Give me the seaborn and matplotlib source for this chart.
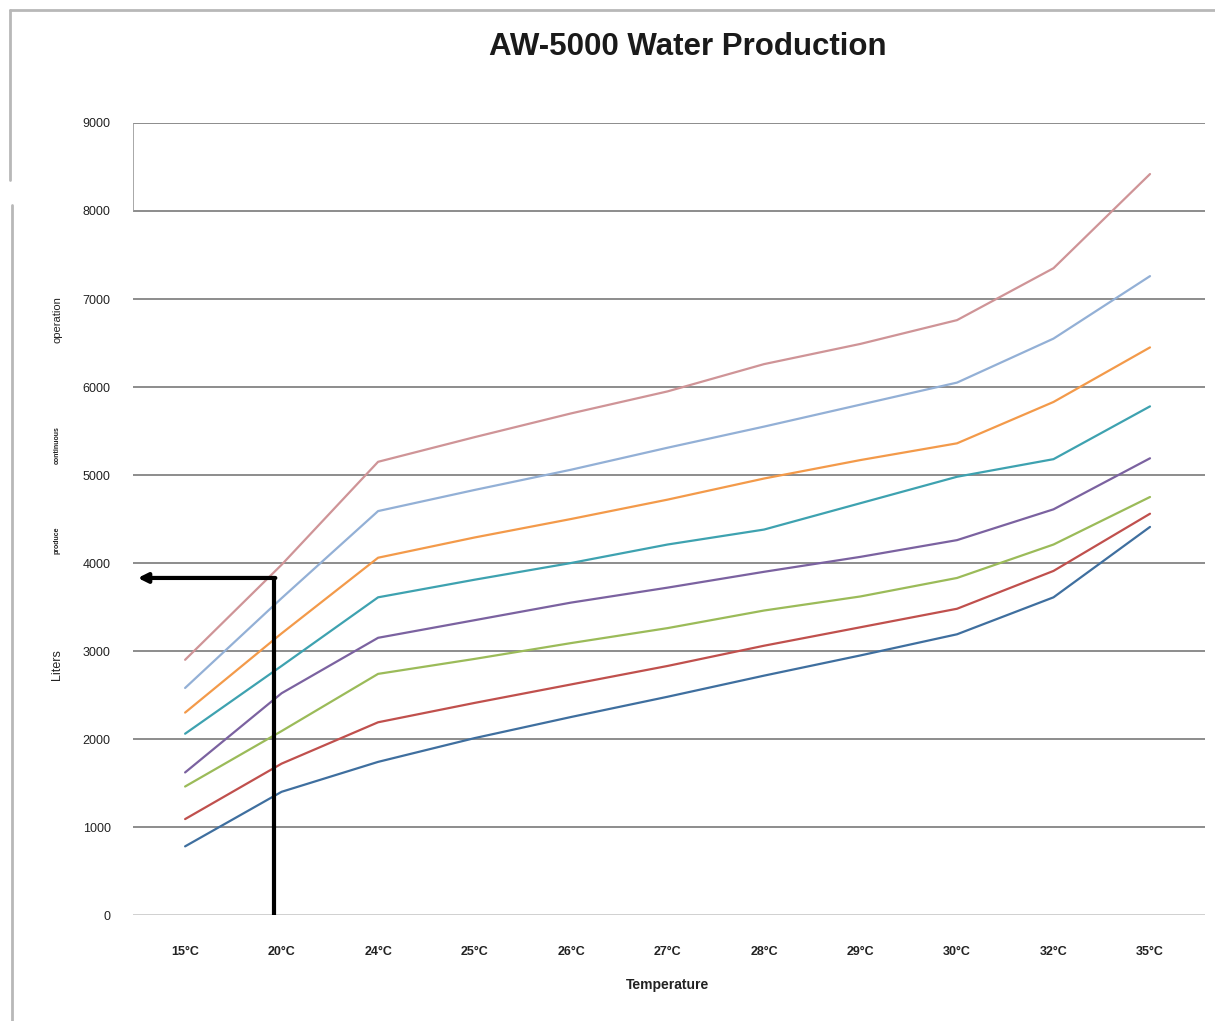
import numpy as np
import pandas as pd
import seaborn as sns
import matplotlib.pyplot as plt
from matplotlib.lines import Line2D
import matplotlib.transforms as mtransforms

# Temperature categories on the x axis
temperatures = ["15°C", "20°C", "24°C", "25°C", "26°C", "27°C",
                "28°C", "29°C", "30°C", "32°C", "35°C"]

# Daily water production (liters) for each operating curve, lowest to highest
curve_1 = [780, 1400, 1740, 2010, 2250, 2480, 2720, 2950, 3190, 3610, 4410]
curve_2 = [1090, 1720, 2190, 2410, 2620, 2830, 3060, 3270, 3480, 3910, 4560]
curve_3 = [1460, 2090, 2740, 2910, 3090, 3260, 3460, 3620, 3830, 4210, 4750]
curve_4 = [1620, 2520, 3150, 3350, 3550, 3720, 3900, 4070, 4260, 4610, 5190]
curve_5 = [2060, 2830, 3610, 3810, 4000, 4210, 4380, 4680, 4980, 5180, 5780]
curve_6 = [2300, 3200, 4060, 4290, 4500, 4720, 4960, 5170, 5360, 5830, 6450]
curve_7 = [2580, 3600, 4590, 4830, 5060, 5310, 5550, 5800, 6050, 6550, 7260]
curve_8 = [2900, 3980, 5150, 5430, 5700, 5950, 6260, 6490, 6760, 7350, 8420]

curve_names = ["curve_1", "curve_2", "curve_3", "curve_4",
               "curve_5", "curve_6", "curve_7", "curve_8"]
curve_values = [curve_1, curve_2, curve_3, curve_4,
                curve_5, curve_6, curve_7, curve_8]
curve_colors = ["#3f6f9f", "#c0504d", "#9bbb59", "#7b62a0",
                "#3ea2b0", "#f39a4a", "#93b0d6", "#cf9497"]

# Reading marked by the arrow: 20°C gives about 3830 liters
marker_temp_pos = 0.92
marker_liters = 3830

y_ticks = [0, 1000, 2000, 3000, 4000, 5000, 6000, 7000, 8000, 9000]

rows = []
for name, vals in zip(curve_names, curve_values):
    for t, v in zip(temperatures, vals):
        rows.append({"Temperature": t, "Liters": v, "curve": name})
df = pd.DataFrame(rows)

sns.set_theme(style="white")
plt.rcParams["font.family"] = ["Liberation Sans", "DejaVu Sans"]

fig = plt.figure(figsize=(12.15, 10.21), dpi=100)
ax = fig.add_axes([133 / 1215, 1 - 915 / 1021, (1205 - 133) / 1215, (915 - 123) / 1021])

df["xpos"] = df["Temperature"].map({t: i for i, t in enumerate(temperatures)})
sns.lineplot(data=df, x="xpos", y="Liters", hue="curve",
             palette=dict(zip(curve_names, curve_colors)),
             linewidth=1.6, sort=False, legend=False, ax=ax, zorder=3)

ax.set_xlim(-0.54, 10.57)
ax.set_ylim(0, 9000)
ax.set_xticks(range(len(temperatures)))
ax.set_xticklabels(temperatures, fontsize=9, fontweight="bold", color="#222222")
ax.set_yticks(y_ticks)
ax.set_yticklabels([str(v) for v in y_ticks], fontsize=9, color="#222222")
ax.tick_params(axis="x", length=0, pad=22)
ax.tick_params(axis="y", length=0, pad=16)

# Horizontal gridlines
for v in y_ticks:
    ax.axhline(v, color="#d0d0d0" if v == 0 else "#8c8c8c",
               linewidth=1.4, zorder=1)
for s in ax.spines.values():
    s.set_visible(False)
ax.plot([0, 0], [8000, 9000], transform=mtransforms.blended_transform_factory(ax.transAxes, ax.transData),
        color="#9a9a9a", linewidth=1.2, zorder=1)

ax.set_xlabel("")
ax.set_ylabel("")

# Arrow reading off the 20°C production value
ax.plot([marker_temp_pos, marker_temp_pos], [0, marker_liters],
        color="black", linewidth=3, zorder=5, solid_capstyle="butt")
ax.annotate("", xy=(-0.49, marker_liters), xytext=(marker_temp_pos + 0.015, marker_liters),
            arrowprops=dict(arrowstyle="-|>", color="black", lw=3,
                            mutation_scale=14, shrinkA=0, shrinkB=0),
            zorder=5)

# Titles and axis labels
fig.text(688 / 1215, 1 - 47 / 1021, "AW-5000 Water Production",
         ha="center", va="center", fontsize=22.5, fontweight="bold", color="#1a1a1a")
fig.text(668 / 1215, 1 - 985 / 1021, "Temperature",
         ha="center", va="center", fontsize=10, fontweight="bold", color="#222222")
fig.text(57 / 1215, 1 - 665 / 1021, "Liters", rotation=90,
         ha="center", va="center", fontsize=9, color="#222222")
fig.text(57 / 1215, 1 - 540 / 1021, "produce", rotation=90,
         ha="center", va="center", fontsize=5, fontweight="bold", color="#222222")
fig.text(57 / 1215, 1 - 445 / 1021, "continuous", rotation=90,
         ha="center", va="center", fontsize=5, fontweight="bold", color="#222222")
fig.text(57 / 1215, 1 - 320 / 1021, "operation", rotation=90,
         ha="center", va="center", fontsize=8, color="#222222")

# Outer chart frame
frame_color = "#b8b8b8"
fig.add_artist(Line2D([10 / 1215, 1.0], [1 - 10 / 1021, 1 - 10 / 1021],
                      transform=fig.transFigure, color=frame_color, linewidth=2))
fig.add_artist(Line2D([10 / 1215, 10 / 1215], [1 - 10 / 1021, 1 - 180 / 1021],
                      transform=fig.transFigure, color=frame_color, linewidth=2))
fig.add_artist(Line2D([12 / 1215, 12 / 1215], [1 - 205 / 1021, 0.0],
                      transform=fig.transFigure, color=frame_color, linewidth=2))

fig.savefig("out.png", dpi=100, facecolor="white")
